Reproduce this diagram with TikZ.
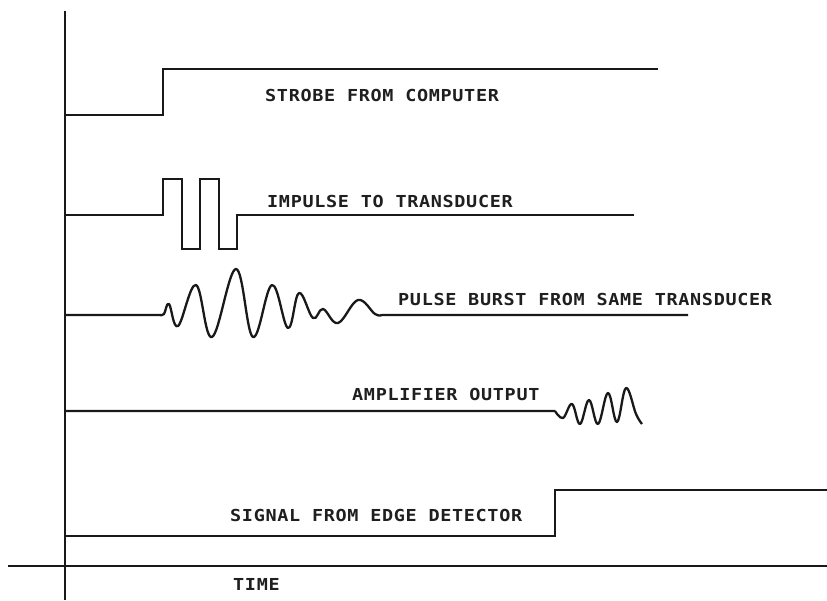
\documentclass[tikz,border=0pt]{standalone}
\usepackage{fontspec}
\newfontfamily\lblfont{DejaVu Sans Mono}[BoldFont=DejaVu Sans Mono Bold,FakeStretch=1.12,LetterSpace=4]
\begin{document}
\begin{tikzpicture}[x=1pt,y=-1pt,
  sig/.style={line width=2.3pt,line join=miter,black!90},
  wave/.style={sig,line join=round},
  lbl/.style={anchor=base west,inner sep=0pt,text=black!88,
    font=\lblfont\bfseries\fontsize{16.5}{17}\selectfont}]
\useasboundingbox (0,0) rectangle (827,600);
\fill[white] (0,0) rectangle (827,600);
% axes
\draw[sig] (65,11) -- (65,600);
\draw[sig] (8,566) -- (827,566);
% strobe
\draw[sig] (65,115) -- (163,115) -- (163,69) -- (658,69);
\node[lbl] (strobe) at (265,101) {STROBE FROM COMPUTER};
% impulse
\draw[sig] (65,215) -- (163,215) -- (163,179) -- (182,179) -- (182,249) -- (200,249)
  -- (200,179) -- (219,179) -- (219,249) -- (237,249) -- (237,215) -- (634,215);
\node[lbl] (impulse) at (267,207) {IMPULSE TO TRANSDUCER};
% pulse burst
\draw[wave] (65,315) -- (160,315)
  plot[smooth,tension=0.65] coordinates {(160,315) (164,314) (169,304) (178,326) (196,285) (212,337)
  (236,269) (253,337) (272,285) (288,328) (299,293) (313,318) (323,309) (338,323) (358,300) (375,314) (382,315)}
  -- (688,315);
\node[lbl] (burst) at (398,305) {PULSE BURST FROM SAME TRANSDUCER};
% amplifier
\draw[wave] (65,411) -- (555,411)
  plot[smooth,tension=0.65] coordinates {(555,411) (563,418) (572,404) (580,424) (589,400) (598,424)
  (608,393) (617,422) (626,388) (636,414) (642,424)};
\node[lbl] (amp) at (352,400) {AMPLIFIER OUTPUT};
% edge detector
\draw[sig] (65,536) -- (555,536) -- (555,490) -- (827,490);
\node[lbl] (edge) at (230,521) {SIGNAL FROM EDGE DETECTOR};
\node[lbl] (time) at (233,590) {TIME};
\end{tikzpicture}
\end{document}
